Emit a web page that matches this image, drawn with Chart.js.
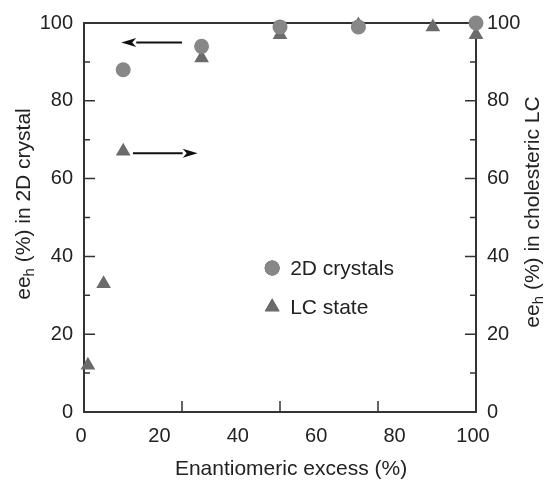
<!DOCTYPE html>
<html>
<head>
<meta charset="utf-8">
<script src="https://cdn.jsdelivr.net/npm/chart.js@4.4.0/dist/chart.umd.min.js"></script>
<style>
  html, body { margin: 0; padding: 0; background: #fff; }
  #wrap { width: 547px; height: 483px; }
</style>
</head>
<body>
<div id="wrap"><canvas id="eeChart" width="547" height="483"></canvas></div>
<script>
// Data
const crystalEE = [10, 30, 50, 70, 100];
const crystalValues = [88, 94, 99, 99, 100];
const lcEE = [1, 5, 10, 30, 50, 70, 89, 100];
const lcValues = [12, 33, 67, 91, 97, 99.5, 99, 97];
const xTickLabels = [0, 20, 40, 60, 80, 100];
const xTickMarks = [25, 50, 75];
const yTickLabels = [0, 20, 40, 60, 80, 100];
const yTickMarks = [10, 20, 30, 40, 50, 60, 70, 80, 90];
const seriesNames = ['2D crystals', 'LC state'];

const FONT = '"Liberation Sans", Arial, Helvetica, sans-serif';
const INK = '#222';
const AXIS = '#333';
const CIRCLE_COLOR = '#878787';
const TRIANGLE_COLOR = '#6b6b6b';

function toPoints(xs, ys) {
  return xs.map((x, i) => ({ x: x, y: ys[i] }));
}

// draws "ee_h" + rest, centred at (0,0) in the current transform
function drawSubLabel(ctx, rest) {
  const big = '21px ' + FONT;
  const small = '15px ' + FONT;
  ctx.font = big;
  const w1 = ctx.measureText('ee').width;
  const w3 = ctx.measureText(rest).width;
  ctx.font = small;
  const w2 = ctx.measureText('h').width;
  let x = -(w1 + w2 + w3) / 2;
  ctx.textBaseline = 'middle';
  ctx.textAlign = 'left';
  ctx.font = big;
  ctx.fillText('ee', x, 0);
  x += w1;
  ctx.font = small;
  ctx.fillText('h', x, 6);
  x += w2;
  ctx.font = big;
  ctx.fillText(rest, x, 0);
}

function drawArrow(ctx, x1, y, x2) {
  const dir = Math.sign(x2 - x1);
  const headLen = 15;
  ctx.beginPath();
  ctx.moveTo(x1, y);
  ctx.lineTo(x2 - dir * headLen, y);
  ctx.lineWidth = 2;
  ctx.stroke();
  ctx.beginPath();
  ctx.moveTo(x2, y);
  ctx.lineTo(x2 - dir * headLen, y - 4.5);
  ctx.lineTo(x2 - dir * (headLen - 4), y);
  ctx.lineTo(x2 - dir * headLen, y + 4.5);
  ctx.closePath();
  ctx.fill();
}

const decorations = {
  id: 'decorations',
  beforeDatasetsDraw(chart) {
    const { ctx, chartArea: a, scales } = chart;
    const x = scales.x, y = scales.y, y2 = scales.y2;
    ctx.save();
    ctx.strokeStyle = AXIS;
    ctx.fillStyle = AXIS;
    ctx.lineWidth = 2;
    ctx.strokeRect(a.left, a.top, a.right - a.left, a.bottom - a.top);

    // inward tick marks
    ctx.lineWidth = 1.5;
    ctx.beginPath();
    yTickMarks.forEach(v => {
      const len = v % 20 === 0 ? 11 : 6;
      const py = y.getPixelForValue(v);
      ctx.moveTo(a.left, py);
      ctx.lineTo(a.left + len, py);
      const py2 = y2.getPixelForValue(v);
      ctx.moveTo(a.right, py2);
      ctx.lineTo(a.right - len, py2);
    });
    xTickMarks.forEach(v => {
      const px = x.getPixelForValue(v);
      ctx.moveTo(px, a.bottom);
      ctx.lineTo(px, a.bottom - 11);
    });
    ctx.stroke();

    // arrows pointing to the axis each series belongs to
    ctx.strokeStyle = '#111';
    ctx.fillStyle = '#111';
    drawArrow(ctx, x.getPixelForValue(25), y.getPixelForValue(95), x.getPixelForValue(9.5));
    drawArrow(ctx, x.getPixelForValue(12.5), y.getPixelForValue(66.5), x.getPixelForValue(29));
    ctx.restore();
  },
  afterDraw(chart) {
    const { ctx, chartArea: a, scales } = chart;
    const x = scales.x, y = scales.y;
    ctx.save();
    ctx.fillStyle = INK;

    // axis titles
    ctx.font = '21px ' + FONT;
    ctx.textAlign = 'center';
    ctx.textBaseline = 'middle';
    ctx.fillText('Enantiomeric excess (%)', (a.left + a.right) / 2 + 11, 469);

    ctx.save();
    ctx.translate(24, 204);
    ctx.rotate(-Math.PI / 2);
    drawSubLabel(ctx, ' (%) in 2D crystal');
    ctx.restore();

    ctx.save();
    ctx.translate(533, 212);
    ctx.rotate(-Math.PI / 2);
    drawSubLabel(ctx, ' (%) in cholesteric LC');
    ctx.restore();

    // legend inside the plot
    const lx = x.getPixelForValue(48);
    const rows = [y.getPixelForValue(37), y.getPixelForValue(27)];
    chart.data.datasets.forEach((ds, i) => {
      Chart.helpers.drawPoint(ctx, {
        pointStyle: ds.pointStyle,
        radius: ds.pointRadius,
        borderWidth: 0
      }, lx, rows[i]);
      ctx.fillStyle = ds.backgroundColor;
      ctx.fill();
      ctx.fillStyle = INK;
      ctx.font = '21px ' + FONT;
      ctx.textAlign = 'left';
      ctx.fillText(seriesNames[i], lx + 18, rows[i] + 1);
    });
    ctx.restore();
  }
};

const tickFont = { family: FONT, size: 20 };

new Chart(document.getElementById('eeChart'), {
  type: 'scatter',
  data: {
    datasets: [
      {
        label: seriesNames[0],
        data: toPoints(crystalEE, crystalValues),
        pointStyle: 'circle',
        pointRadius: 7.5,
        backgroundColor: CIRCLE_COLOR,
        borderColor: CIRCLE_COLOR,
        pointBorderWidth: 0,
        yAxisID: 'y',
        clip: false
      },
      {
        label: seriesNames[1],
        data: toPoints(lcEE, lcValues),
        pointStyle: 'triangle',
        pointRadius: 8.5,
        backgroundColor: TRIANGLE_COLOR,
        borderColor: TRIANGLE_COLOR,
        pointBorderWidth: 0,
        yAxisID: 'y2',
        clip: false
      }
    ]
  },
  options: {
    responsive: false,
    animation: false,
    layout: { padding: { top: 22, left: 0, right: 0, bottom: 0 } },
    plugins: { legend: { display: false }, tooltip: { enabled: false } },
    scales: {
      x: {
        type: 'linear', min: 0, max: 100,
        afterBuildTicks: s => { s.ticks = xTickLabels.map(v => ({ value: v })); },
        afterFit: s => { s.height = 71; },
        grid: { display: false, drawTicks: false },
        border: { display: false },
        ticks: { color: INK, font: tickFont, padding: 12, maxRotation: 0, labelOffset: -3 }
      },
      y: {
        type: 'linear', position: 'left', min: 0, max: 100,
        afterBuildTicks: s => { s.ticks = yTickLabels.map(v => ({ value: v })); },
        afterFit: s => { s.width = 84; },
        grid: { display: false, drawTicks: false },
        border: { display: false },
        ticks: { color: INK, font: tickFont, padding: 11 }
      },
      y2: {
        type: 'linear', position: 'right', min: 0, max: 100,
        afterBuildTicks: s => { s.ticks = yTickLabels.map(v => ({ value: v })); },
        afterFit: s => { s.width = 71; },
        grid: { display: false, drawTicks: false },
        border: { display: false },
        ticks: { color: INK, font: tickFont, padding: 11 }
      }
    }
  },
  plugins: [decorations]
});
</script>
</body>
</html>
